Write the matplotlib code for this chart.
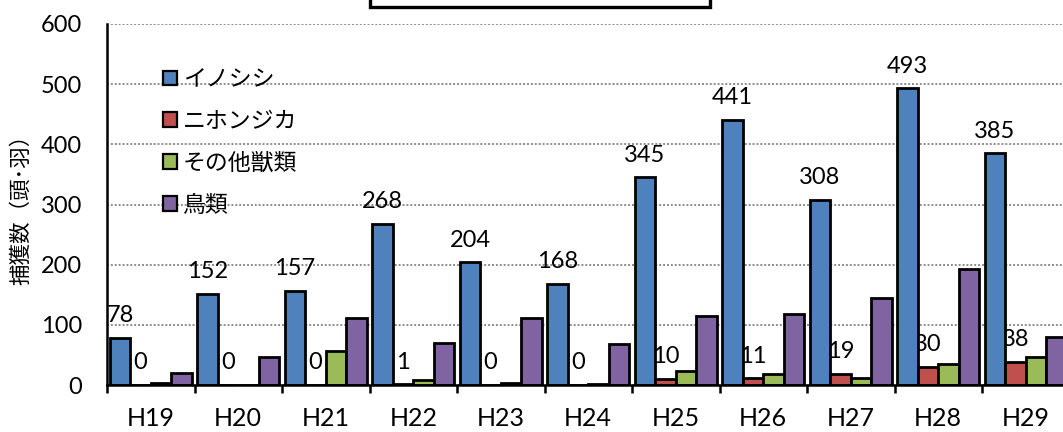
import matplotlib
matplotlib.use("Agg")
import matplotlib.pyplot as plt
from matplotlib.patches import Rectangle, Patch
from matplotlib.ticker import FixedLocator
import numpy as np

plt.rcParams['font.family'] = ['Lato', 'Noto Sans CJK JP', 'DejaVu Sans']

years = ["H19", "H20", "H21", "H22", "H23", "H24", "H25", "H26", "H27", "H28", "H29"]
series_names = ["イノシシ", "ニホンジカ", "その他獣類", "鳥類"]
inoshishi = [78, 152, 157, 268, 204, 168, 345, 441, 308, 493, 385]
nihonjika = [0, 0, 0, 1, 0, 0, 10, 11, 19, 30, 38]
sonota = [4, 0, 56, 9, 3, 1, 24, 18, 11, 35, 47]
chorui = [20, 47, 112, 70, 112, 68, 115, 118, 144, 193, 79]
colors = ["#4F81BD", "#C0504D", "#9BBB59", "#8064A2"]

W, H = 1063, 432
fig = plt.figure(figsize=(W / 100, H / 100), dpi=100)
ax = fig.add_axes([107 / W, (H - 385) / H, 962.5 / W, (385 - 24) / H])

x = np.arange(len(years))
bw = 0.235
data = [inoshishi, nihonjika, sonota, chorui]
for i, (vals, c) in enumerate(zip(data, colors)):
    pos = x + (i - 1.5) * bw
    ax.bar(pos, vals, width=bw, color=c, edgecolor="black", linewidth=2.0, zorder=3)
    if i in (0, 1):
        for p, v in zip(pos, vals):
            ax.annotate(str(v), (p, v), xytext=(0, 16), textcoords="offset points",
                        ha="center", va="center", fontsize=17, zorder=1)

ax.set_xlim(-0.5, len(years) - 0.5)
ax.set_ylim(0, 600)
ax.set_yticks(range(0, 601, 100))
ax.yaxis.grid(True, color="#8c8c8c", linestyle=(0, (1, 1)), linewidth=1.4, zorder=0)
ax.set_axisbelow(True)

ax.set_xticks(x)
ax.set_xticklabels(years, fontsize=18)
ax.xaxis.set_minor_locator(FixedLocator(np.arange(-0.5, len(years), 1.0)))
ax.tick_params(axis="x", which="major", length=0, pad=16)
ax.tick_params(axis="x", which="minor", length=6, width=1.8, direction="out")
ax.tick_params(axis="y", length=0, pad=18, labelsize=17)

for side in ("top", "right"):
    ax.spines[side].set_visible(False)
ax.spines["left"].set_linewidth(1.8)
ax.spines["bottom"].set_linewidth(1.8)
ax.spines["bottom"].set_zorder(4)

ax.set_ylabel("捕獲数（頭･羽）", fontsize=15.5)
ax.yaxis.set_label_coords(-76 / 962.5, 0.5)

handles = [Patch(facecolor=c, edgecolor="black", linewidth=1.6) for c in colors]
ax.legend(handles, series_names, loc="upper left",
          bbox_to_anchor=(47 / 962.5, (385 - 60) / 361),
          frameon=False, fontsize=16.5, handlelength=0.61, handleheight=0.6,
          handletextpad=0.25, labelspacing=0.9, borderaxespad=0)

fig.add_artist(Rectangle((370 / W, 1 - 7 / H), 340 / W, 0.2, transform=fig.transFigure,
                         facecolor="white", edgecolor="black", linewidth=2.4))

fig.savefig("out.png", dpi=100)
